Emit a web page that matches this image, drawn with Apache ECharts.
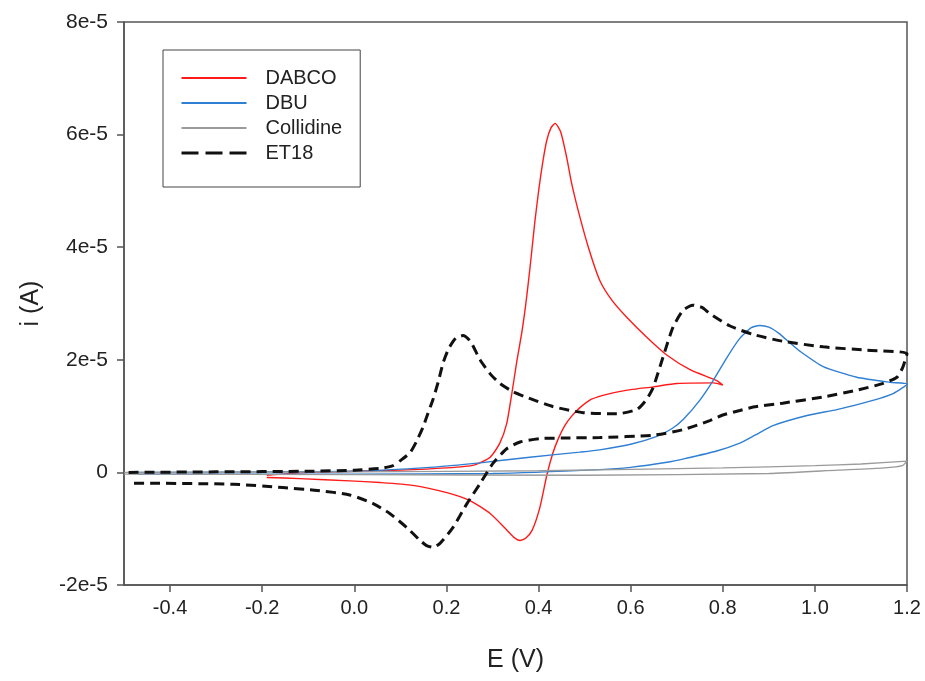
<!DOCTYPE html>
<html>
<head>
<meta charset="utf-8">
<title>CV</title>
<script src="https://cdn.jsdelivr.net/npm/echarts@6.0.0/dist/echarts.min.js"></script>
<style>
  html, body { margin: 0; padding: 0; background: #fff; }
  #main { width: 925px; height: 681px; }
</style>
</head>
<body>
<div id="main"></div>
<script>
// current values are in units of 1e-5 A, potential in V
const seriesNames = ["DABCO", "DBU", "Collidine", "ET18"];

const dabco = [
  [-0.19, -0.05], [-0.1, 0.0], [0.0, 0.02], [0.1, 0.04], [0.2, 0.08], [0.26, 0.13],
  [0.295, 0.27], [0.316, 0.52], [0.331, 0.87], [0.342, 1.4], [0.353, 1.98], [0.364, 2.5],
  [0.374, 3.1], [0.383, 3.75], [0.392, 4.45], [0.401, 5.05], [0.41, 5.55], [0.418, 5.9],
  [0.427, 6.12], [0.436, 6.2], [0.448, 6.05], [0.461, 5.6], [0.472, 5.13], [0.49, 4.53],
  [0.51, 3.95], [0.533, 3.41], [0.56, 3.05], [0.592, 2.75], [0.635, 2.4], [0.679, 2.08],
  [0.73, 1.82], [0.787, 1.63], [0.80, 1.55], [0.78, 1.59], [0.70, 1.58], [0.649, 1.52],
  [0.6, 1.47], [0.555, 1.40], [0.515, 1.3], [0.49, 1.15], [0.472, 1.0], [0.457, 0.83],
  [0.443, 0.6], [0.431, 0.34], [0.418, -0.05], [0.403, -0.62], [0.386, -1.03],
  [0.372, -1.17], [0.36, -1.21], [0.346, -1.15], [0.332, -1.03], [0.295, -0.73],
  [0.251, -0.5], [0.201, -0.36], [0.127, -0.23], [0.056, -0.18], [-0.01, -0.15],
  [-0.118, -0.11], [-0.19, -0.09]
];

const dbu = [
  [-0.47, 0.0], [-0.2, 0.01], [0.0, 0.02], [0.164, 0.09], [0.273, 0.17], [0.381, 0.27],
  [0.49, 0.36], [0.533, 0.4], [0.6, 0.5], [0.657, 0.64], [0.69, 0.78], [0.714, 0.94],
  [0.75, 1.28], [0.779, 1.63], [0.809, 2.04], [0.837, 2.38], [0.862, 2.57], [0.88, 2.61],
  [0.9, 2.58], [0.922, 2.47], [0.946, 2.3], [0.968, 2.15], [1.018, 1.88], [1.091, 1.69],
  [1.163, 1.6], [1.2, 1.57], [1.17, 1.4], [1.126, 1.28], [1.05, 1.12], [0.983, 1.01],
  [0.909, 0.83], [0.87, 0.66], [0.837, 0.52], [0.787, 0.38], [0.72, 0.25], [0.679, 0.18],
  [0.6, 0.09], [0.533, 0.05], [0.3, -0.02], [0.0, -0.03], [-0.47, -0.03]
];

const collidine = [
  [-0.5, 0.0], [0.0, 0.01], [0.4, 0.03], [0.8, 0.08], [1.0, 0.12], [1.1, 0.15], [1.2, 0.2],
  [1.19, 0.12], [1.15, 0.08], [1.05, 0.04], [0.9, -0.02], [0.5, -0.05], [0.0, -0.04], [-0.5, -0.03]
];

const et18 = [
  [-0.49, 0.0], [-0.3, 0.01], [-0.1, 0.02], [0.0, 0.04], [0.056, 0.07], [0.084, 0.12],
  [0.1, 0.21], [0.121, 0.35], [0.135, 0.55], [0.149, 0.8], [0.16, 1.05], [0.171, 1.3],
  [0.182, 1.6], [0.193, 1.95], [0.205, 2.2], [0.22, 2.38], [0.236, 2.43], [0.252, 2.33],
  [0.273, 2.0], [0.295, 1.75], [0.316, 1.58], [0.345, 1.43], [0.375, 1.33], [0.431, 1.17],
  [0.497, 1.06], [0.57, 1.04], [0.614, 1.12], [0.635, 1.3], [0.649, 1.51], [0.67, 2.04],
  [0.692, 2.58], [0.714, 2.88], [0.735, 2.97], [0.755, 2.93], [0.772, 2.82], [0.816, 2.6],
  [0.866, 2.45], [0.93, 2.33], [1.018, 2.23], [1.113, 2.17], [1.2, 2.11], [1.191, 1.87],
  [1.178, 1.69], [1.148, 1.58], [1.091, 1.46], [1.018, 1.34], [0.93, 1.23], [0.866, 1.16],
  [0.837, 1.1], [0.8, 1.02], [0.772, 0.92], [0.714, 0.76], [0.649, 0.66], [0.533, 0.62],
  [0.45, 0.61], [0.403, 0.6], [0.36, 0.54], [0.331, 0.42], [0.301, 0.16], [0.273, -0.2],
  [0.245, -0.55], [0.214, -0.98], [0.186, -1.26], [0.171, -1.33], [0.157, -1.3],
  [0.143, -1.21], [0.114, -0.98], [0.077, -0.73], [0.04, -0.55], [-0.01, -0.4],
  [-0.08, -0.32], [-0.155, -0.27], [-0.263, -0.21], [-0.49, -0.19]
];

const xTicks = [-0.4, -0.2, 0.0, 0.2, 0.4, 0.6, 0.8, 1.0, 1.2];

const font = "Liberation Sans, Arial, sans-serif";
const chart = echarts.init(document.getElementById("main"));

function lineSeries(name, data, color, width, type) {
  return {
    name: name,
    type: "line",
    data: data,
    symbol: "none",
    smooth: 0.2,
    lineStyle: { color: color, width: width, type: type },
    itemStyle: { color: color }
  };
}

const option = {
  animation: false,
  backgroundColor: "#fff",
  grid: {
    left: 124, right: 18, top: 22, bottom: 96,
    show: true, borderColor: "#555", borderWidth: 1.5
  },
  legend: {
    data: [
      { name: seriesNames[0] },
      { name: seriesNames[1] },
      { name: seriesNames[2] },
      { name: seriesNames[3], lineStyle: { type: [17, 7], width: 3 } }
    ],
    orient: "vertical",
    left: 163, top: 50,
    padding: [18, 18, 24, 17],
    itemWidth: 65, itemHeight: 14, itemGap: 5,
    itemStyle: { opacity: 0 },
    borderColor: "#444", borderWidth: 1,
    textStyle: { fontFamily: font, fontSize: 20, color: "#222", padding: [0, 0, 0, 14] }
  },
  xAxis: {
    type: "value",
    min: -0.5, max: 1.2,
    name: "E (V)",
    nameLocation: "middle",
    nameGap: 63,
    nameTextStyle: { fontFamily: font, fontSize: 25, color: "#222" },
    axisLine: { onZero: false, lineStyle: { color: "#555", width: 1.5 } },
    axisTick: { customValues: xTicks, length: 7, lineStyle: { color: "#555", width: 1.5 } },
    axisLabel: {
      customValues: xTicks, margin: 13,
      fontFamily: font, fontSize: 20, color: "#222",
      formatter: v => v.toFixed(1)
    },
    splitLine: { show: false }
  },
  yAxis: {
    type: "value",
    min: -2, max: 8, interval: 2,
    name: "i (A)",
    nameLocation: "middle",
    nameGap: 80,
    nameTextStyle: { fontFamily: font, fontSize: 25, color: "#222" },
    axisLine: { onZero: false, lineStyle: { color: "#555", width: 1.5 } },
    axisTick: { length: 7, lineStyle: { color: "#555", width: 1.5 } },
    axisLabel: {
      margin: 16, fontFamily: font, fontSize: 21, color: "#222",
      formatter: v => (v === 0 ? "0" : v + "e-5")
    },
    splitLine: { show: false }
  },
  series: [
    lineSeries("DABCO", dabco, "#ff1a1a", 1.4, "solid"),
    lineSeries("DBU", dbu, "#2f7fd3", 1.4, "solid"),
    lineSeries("Collidine", collidine, "#9a9a9a", 1.4, "solid"),
    lineSeries("ET18", et18, "#111", 3, [10, 6])
  ]
};

chart.setOption(option);
</script>
</body>
</html>
